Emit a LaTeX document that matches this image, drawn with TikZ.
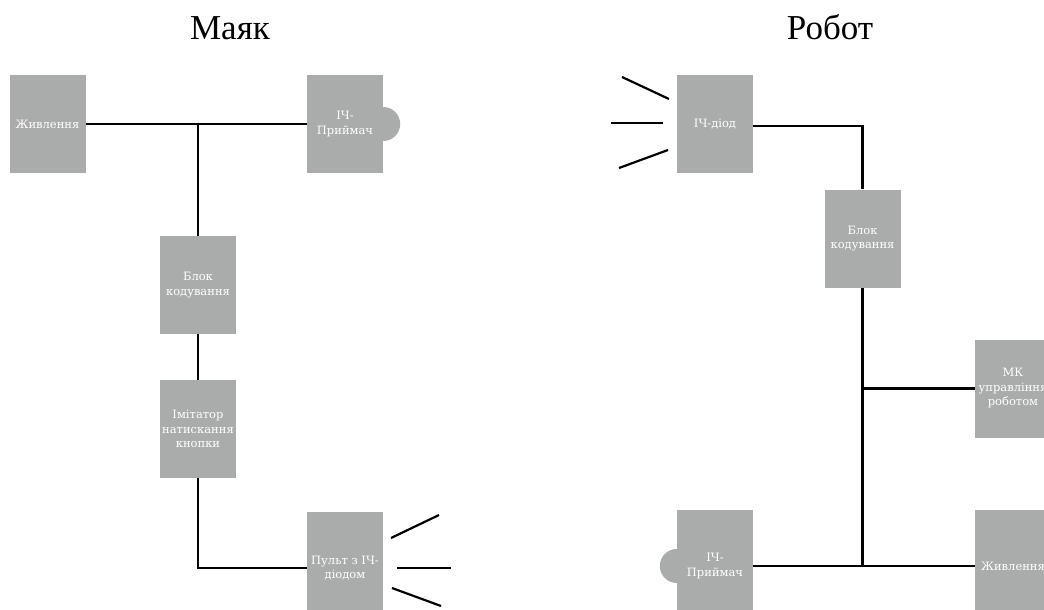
\documentclass[tikz,border=0pt]{standalone}
\usepackage{fontspec}
\setmainfont{Liberation Serif}
\newfontfamily\boxfont{DejaVu Serif}
\usetikzlibrary{backgrounds}
\definecolor{boxgray}{RGB}{170,171,171}
\tikzset{
  blk/.style={rectangle, fill=boxgray, draw=none, minimum width=76pt, minimum height=98pt,
    inner sep=0pt, align=center, text=white, font=\boxfont\fontsize{11.5}{14.5}\selectfont},
  blkb/.style={blk, minimum height=112pt},
  wire/.style={draw=black, line width=2.2pt},
  ray/.style={draw=black, line width=2.2pt},
  ttl/.style={anchor=base, font=\fontsize{35}{40}\selectfont, inner sep=0pt}
}
\begin{document}
\begin{tikzpicture}[x=1pt, y=-1pt]
\useasboundingbox (0,0) rectangle (1044,610);
\clip (0,0) rectangle (1044,610);

% titles
\node[ttl] (t1) at (230,40) {Маяк};
\node[ttl] (t2) at (830,40) {Робот};

% left panel
\node[blk] (Lpow) at (47.5,124) {Живлення};
\node[blk] (Lrx) at (345,124) {ІЧ-\\Приймач};
\node[blk] (Lcode) at (198,285) {Блок\\кодування};
\node[blk] (Limit) at (198,429) {Імітатор\\натискання\\кнопки};
\node[blkb] (Lrem) at (345,568) {Пульт з ІЧ-\\діодом};

% right panel
\node[blk] (Rdio) at (715,124) {ІЧ-діод};
\node[blk] (Rcode) at (862.5,238.5) {Блок\\кодування};
\node[blk] (Rmk) at (1013,388.5) {МК\\управління\\роботом};
\node[blkb] (Rrx) at (715,566) {ІЧ-\\Приймач};
\node[blkb] (Rpow) at (1013,566) {Живлення};

\begin{scope}[on background layer]
  \fill[white] (0,0) rectangle (1044,610);
  \fill[boxgray] (Lrx.east) circle (17);
  \fill[boxgray] (Rrx.west) circle (17);
\end{scope}

% left wires
\coordinate (jL) at (Lcode.north |- Lpow.east);
\draw[wire] (Lpow.east) -- (Lrx.west);
\draw[wire] (jL) -- (Lcode.north);
\draw[wire] (Lcode.south) -- (Limit.north);
\draw[wire] (Limit.south) |- (Lrem.west);

% right wires
\coordinate (jB) at (Rcode.south |- Rrx.east);
\coordinate (jM) at (Rcode.south |- Rmk.west);
\draw[wire] ([yshift=-2pt]Rdio.east) -| (Rcode.north);
\draw[wire] (Rcode.south) -- (jB);
\draw[wire] (jM) -- (Rmk.west);
\draw[wire] (Rrx.east) -- (Rpow.west);

% rays of left remote
\draw[ray] (391,538) -- (439,515);
\draw[ray] (397,568) -- (451,568);
\draw[ray] (392,588) -- (441,606);
% rays of right diode
\draw[ray] (622,77) -- (669,99);
\draw[ray] (611,123) -- (663,123);
\draw[ray] (619,168) -- (668,150);
\end{tikzpicture}
\end{document}
